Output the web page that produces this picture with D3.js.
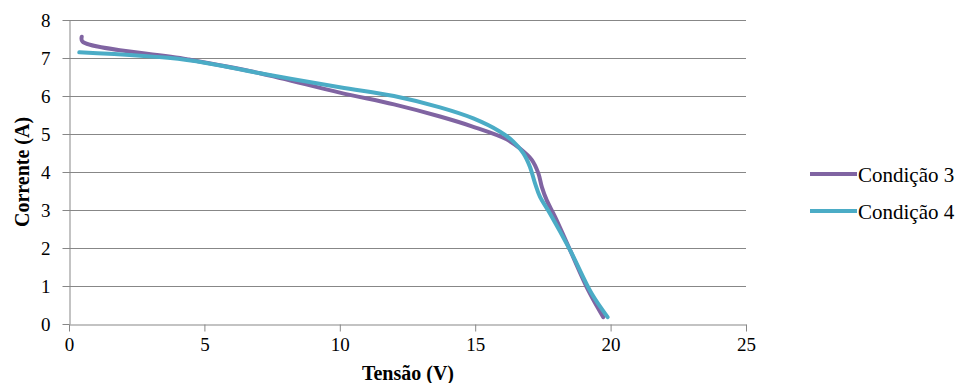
<!DOCTYPE html>
<html>
<head>
<meta charset="utf-8">
<script src="https://cdn.jsdelivr.net/npm/d3@7"></script>
<style>
  body { margin: 0; background: #fff; }
  svg { display: block; }
</style>
</head>
<body>
<div id="chart"></div>
<script>
// curve readings, tensão (V) / corrente (A)
const cond3V = [0.47, 0.5, 4.35, 7.05, 10, 12, 13.7, 14.93, 16.16, 16.65, 17.09, 17.33, 17.46, 17.64, 17.95, 18.5, 19.2, 19.73];
const cond3I = [7.56, 7.43, 6.97, 6.6, 6.09, 5.78, 5.46, 5.19, 4.86, 4.62, 4.32, 3.97, 3.61, 3.26, 2.82, 1.95, 0.85, 0.18];
const cond4V = [0.38, 4.35, 7.05, 10, 12, 13.7, 14.93, 15.92, 16.41, 16.78, 17.02, 17.21, 17.39, 17.76, 18.5, 19.3, 19.89];
const cond4I = [7.15, 6.95, 6.6, 6.23, 6.0, 5.7, 5.41, 5.06, 4.8, 4.49, 4.14, 3.7, 3.35, 2.91, 1.95, 0.8, 0.18];
const seriesNames = ["Condição 3", "Condição 4"];
const seriesColors = ["#8064A2", "#4BACC6"];
const xTicks = [0, 5, 10, 15, 20, 25];
const yTicks = [0, 1, 2, 3, 4, 5, 6, 7, 8];

const W = 964, H = 383;
const margin = {top: 20, left: 69, right: 218, bottom: 59};
const serif = "'Liberation Serif', 'Times New Roman', Times, serif";

const svg = d3.select("#chart").append("svg")
  .attr("width", W)
  .attr("height", H)
  .style("font-family", serif);

const x = d3.scaleLinear().domain([0, 25]).range([margin.left, W - margin.right]);
const y = d3.scaleLinear().domain([0, 8]).range([H - margin.bottom, margin.top]);

// gridlines
svg.append("g")
  .selectAll("line")
  .data(yTicks.filter(d => d > 0))
  .enter().append("line")
  .attr("x1", x(0)).attr("x2", x(25))
  .attr("y1", d => y(d) + 0.5).attr("y2", d => y(d) + 0.5)
  .attr("stroke", "#878787")
  .attr("stroke-width", 1);

const xAxis = svg.append("g")
  .attr("transform", `translate(0,${y(0) + 0.5})`)
  .call(d3.axisBottom(x).tickValues(xTicks).tickSize(7).tickPadding(6).tickSizeOuter(0));
xAxis.attr("font-family", serif).attr("font-size", 19);
xAxis.select(".domain").attr("stroke", "#878787");
xAxis.selectAll(".tick line").attr("stroke", "#878787");
xAxis.selectAll(".tick text").style("font-family", serif).attr("fill", "#000");

const yAxis = svg.append("g")
  .attr("transform", `translate(${x(0) + 0.5},0)`)
  .call(d3.axisLeft(y).tickValues(yTicks).tickSize(7).tickPadding(12).tickSizeOuter(0));
yAxis.attr("font-family", serif).attr("font-size", 19);
yAxis.select(".domain").attr("stroke", "#878787");
yAxis.selectAll(".tick line").attr("stroke", "#878787");
yAxis.selectAll(".tick text").style("font-family", serif).attr("fill", "#000");

svg.append("text")
  .attr("x", 408)
  .attr("y", 380)
  .attr("text-anchor", "middle")
  .style("font-family", serif)
  .style("font-size", "20px")
  .style("font-weight", "bold")
  .text("Tensão (V)");

svg.append("text")
  .attr("transform", `translate(29,${(y(0) + y(8)) / 2}) rotate(-90)`)
  .attr("text-anchor", "middle")
  .style("font-family", serif)
  .style("font-size", "20px")
  .style("font-weight", "bold")
  .text("Corrente (A)");

const line = d3.line()
  .curve(d3.curveCatmullRom.alpha(0.5))
  .x(d => x(d[0]))
  .y(d => y(d[1]));

const series = [
  cond3V.map((v, i) => [v, cond3I[i]]),
  cond4V.map((v, i) => [v, cond4I[i]])
];

svg.append("g")
  .selectAll("path")
  .data(series)
  .enter().append("path")
  .attr("d", line)
  .attr("fill", "none")
  .attr("stroke", (d, i) => seriesColors[i])
  .attr("stroke-width", 4)
  .attr("stroke-linecap", "round")
  .attr("stroke-linejoin", "round");

// legend
const legend = svg.append("g")
  .selectAll("g")
  .data(seriesNames)
  .enter().append("g")
  .attr("transform", (d, i) => `translate(810,${174 + i * 37})`);
legend.append("line")
  .attr("x1", 0).attr("x2", 47)
  .attr("stroke", (d, i) => seriesColors[i])
  .attr("stroke-width", 4);
legend.append("text")
  .attr("x", 48)
  .attr("y", 8)
  .style("font-family", serif)
  .style("font-size", "21px")
  .text(d => d);
</script>
</body>
</html>
